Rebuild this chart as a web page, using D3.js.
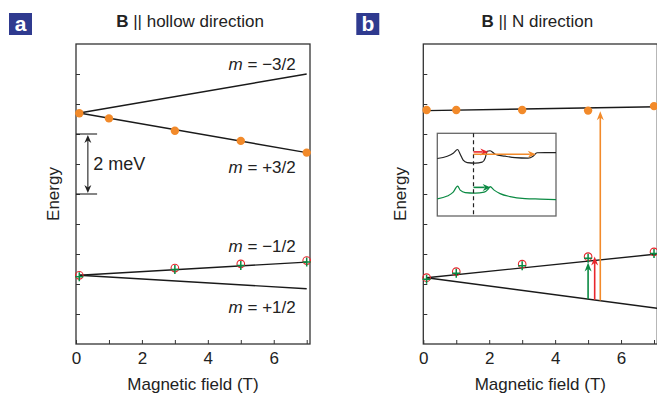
<!DOCTYPE html>
<html>
<head>
<meta charset="utf-8">
<script src="https://cdn.jsdelivr.net/npm/d3@7"></script>
<style>
    body { margin: 0; background: #fff; }
    svg { display: block; font-family: "Liberation Sans Narrow", "Liberation Sans", Arial, sans-serif; }
</style>
</head>
<body>
<svg id="chart" width="657" height="395"></svg>
<script>
// field values (T) and energies (meV, arbitrary offset)
const xTicks = [0, 1, 2, 3, 4, 5, 6, 7];
const xTickLabels = ['0', '', '2', '', '4', '', '6', ''];
const yTicks = [1, 2, 3, 4, 5, 6, 7, 8, 9];

// panel a: B || hollow
const fieldA32 = [0.1, 1, 3, 5, 7];
const energyA32 = [7.69, 7.52, 7.11, 6.77, 6.38];
const fieldA12 = [0.1, 3, 5, 7];
const energyA12 = [2.29, 2.53, 2.67, 2.78];
const linesA = [
    {label: '\u22123/2', from: [0.1, 7.7], to: [7, 9.0], lx: 7, ly: 9.12},
    {label: '+3/2', from: [0.1, 7.7], to: [7, 6.38], lx: 7, ly: 5.7},
    {label: '\u22121/2', from: [0.1, 2.29], to: [7, 2.73], lx: 7, ly: 3.08},
    {label: '+1/2', from: [0.1, 2.29], to: [7, 1.84], lx: 7, ly: 1.04}
];

// panel b: B || N
const fieldB = [0.1, 1, 3, 5, 7];
const energyBTop = [7.8, 7.8, 7.8, 7.78, 7.93];
const energyBLow = [2.21, 2.41, 2.66, 2.91, 3.07];
const linesB = [
    {from: [0.1, 7.78], to: [7.1, 7.91]},
    {from: [0.1, 2.21], to: [7.1, 3.0]},
    {from: [0.1, 2.21], to: [7.1, 1.19]}
];
const arrowsB = [
    {x: 5.0, from: 1.5, to: 2.72, color: '#0b8a43'},
    {x: 5.2, from: 1.47, to: 2.92, color: '#e8262c'},
    {x: 5.37, from: 1.45, to: 7.76, color: '#f28a2a'}
];

// inset spectra (x 0..100, y 0..100)
const insetBlack = [[0, 69.5], [8.4, 72.3], [13.4, 75.9], [17.1, 80.4], [19.3, 74.7], [21.8, 67.5],
    [25.2, 64.5], [31.9, 63.9], [37.8, 65.1], [40.3, 69.9], [42, 78.3], [44.5, 78.9], [48.7, 74.7],
    [57.1, 72.3], [65.5, 70.5], [76.5, 69.9], [80.7, 72.3], [84, 76.5], [90.8, 76.7], [100, 76.7]];
const insetGreen = [[0, 20.8], [8.4, 24.1], [13.4, 28.9], [17.1, 36.1], [19.3, 31.3], [23.5, 28.3],
    [31.9, 27.7], [39.5, 28.9], [42.9, 32.5], [44.5, 35.5], [47.9, 31.3], [52.9, 27.1], [61.3, 23.5],
    [73.9, 21.1], [86.6, 20.5], [100, 19.9]];
const insetArrows = [
    {x0: 30.5, x1: 43, y: 77.5, color: '#e8262c'},
    {x0: 30.5, x1: 83, y: 74.7, color: '#f28a2a'},
    {x0: 30.5, x1: 45, y: 34.6, color: '#0b8a43'}
];

const ORANGE = '#f28a2a';
const RED = '#e8262c';
const GREEN = '#0b8a43';
const AXIS = '#333';

const svg = d3.select('#chart');
const plotTop = 44, plotBottom = 344;

const arrowHead = (g, x, y, dir, color, len, half) => {
    // dir: 'up', 'down', 'right'
    let pts;
    if (dir === 'up') pts = [[x, y], [x - half, y + len], [x, y + len * 0.7], [x + half, y + len]];
    else if (dir === 'down') pts = [[x, y], [x - half, y - len], [x, y - len * 0.7], [x + half, y - len]];
    else pts = [[x, y], [x - len, y - half], [x - len * 0.7, y], [x - len, y + half]];
    g.append('path')
        .attr('d', 'M' + pts.map(p => p.join(',')).join('L') + 'Z')
        .attr('fill', color);
};

const makePanel = (x0, x1, letter, title) => {
    const g = svg.append('g');
    const xScale = d3.scaleLinear().domain([0, 7.1]).range([x0, x1]);
    const yScale = d3.scaleLinear().domain([0, 10]).range([plotBottom, plotTop]);

    g.append('g')
        .attr('transform', `translate(0, ${plotBottom})`)
        .call(d3.axisBottom(xScale).tickValues(xTicks).tickSize(-4).tickPadding(8)
            .tickFormat((d, i) => xTickLabels[i]))
        .call(a => a.select('.domain').remove())
        .call(a => a.selectAll('line').attr('stroke', AXIS).attr('stroke-width', 1))
        .call(a => a.selectAll('text').attr('font-size', 17).attr('fill', '#222').attr('font-family', null));

    g.append('g')
        .attr('transform', `translate(${x0}, 0)`)
        .call(d3.axisLeft(yScale).tickValues(yTicks).tickSize(-4).tickFormat(''))
        .call(a => a.select('.domain').remove())
        .call(a => a.selectAll('line').attr('stroke', AXIS).attr('stroke-width', 1));

    g.append('rect')
        .attr('x', x0).attr('y', plotTop)
        .attr('width', x1 - x0).attr('height', plotBottom - plotTop)
        .attr('fill', 'none').attr('stroke', AXIS).attr('stroke-width', 1.3);

    g.append('text')
        .attr('x', (x0 + x1) / 2).attr('y', 390)
        .attr('text-anchor', 'middle').attr('font-size', 17).attr('fill', '#222')
        .text('Magnetic field (T)');

    g.append('text')
        .attr('transform', `translate(${x0 - 17}, ${(plotTop + plotBottom) / 2}) rotate(-90)`)
        .attr('text-anchor', 'middle').attr('font-size', 17).attr('fill', '#222')
        .text('Energy');

    const lx = x0 - 67;
    g.append('rect').attr('x', lx).attr('y', 13).attr('width', 23).attr('height', 22).attr('fill', '#2f3a8f');
    g.append('text').attr('x', lx + 11.5).attr('y', 31).attr('text-anchor', 'middle')
        .attr('font-size', 21).attr('font-weight', 'bold').attr('fill', '#fff')
        .attr('font-family', '"Liberation Sans", Arial, sans-serif').text(letter);

    const t = g.append('text')
        .attr('x', (x0 + x1) / 2 - 3).attr('y', 27)
        .attr('text-anchor', 'middle').attr('font-size', 17).attr('fill', '#222');
    t.append('tspan').attr('font-weight', 'bold').text('B');
    t.append('tspan').text(' || ' + title);

    return {g, xScale, yScale};
};

const drawLine = (p, l) => {
    p.g.append('line')
        .attr('x1', p.xScale(l.from[0])).attr('y1', p.yScale(l.from[1]))
        .attr('x2', p.xScale(l.to[0])).attr('y2', p.yScale(l.to[1]))
        .attr('stroke', '#1a1a1a').attr('stroke-width', 1.4);
};

const drawOrange = (p, xs, ys) => {
    p.g.selectAll(null).data(xs).enter().append('circle')
        .attr('cx', d => p.xScale(d)).attr('cy', (d, i) => p.yScale(ys[i]))
        .attr('r', 4.2).attr('fill', ORANGE);
};

const drawHalf = (p, xs, ys) => {
    const pts = p.g.selectAll(null).data(xs).enter().append('g')
        .attr('transform', (d, i) => `translate(${p.xScale(d)}, ${p.yScale(ys[i])})`);
    pts.append('circle').attr('r', 3.8).attr('fill', 'none').attr('stroke', RED).attr('stroke-width', 1.1);
    pts.append('path').attr('d', 'M-4,1.5H4M0,-3V6').attr('stroke', GREEN).attr('stroke-width', 1.5);
};

// ---- panel a
const pa = makePanel(76, 310, 'a', 'hollow direction');
linesA.forEach(l => drawLine(pa, l));
drawOrange(pa, fieldA32, energyA32);
drawHalf(pa, fieldA12, energyA12);
linesA.forEach(l => {
    const t = pa.g.append('text')
        .attr('x', pa.xScale(l.lx) - 11).attr('y', pa.yScale(l.ly))
        .attr('text-anchor', 'end').attr('font-size', 17).attr('fill', '#222');
    t.append('tspan').attr('font-style', 'italic').text('m');
    t.append('tspan').text(' = ' + l.label);
});

// 2 meV bracket
const bx0 = pa.xScale(0), bx1 = pa.xScale(0.64), bxa = pa.xScale(0.36);
[7, 5].forEach(e => {
    pa.g.append('line').attr('x1', bx0).attr('x2', bx1)
        .attr('y1', pa.yScale(e)).attr('y2', pa.yScale(e))
        .attr('stroke', '#222').attr('stroke-width', 1.1);
});
pa.g.append('line').attr('x1', bxa).attr('x2', bxa)
    .attr('y1', pa.yScale(7) + 4).attr('y2', pa.yScale(5) - 4)
    .attr('stroke', '#222').attr('stroke-width', 1.1);
arrowHead(pa.g, bxa, pa.yScale(7) + 1, 'up', '#222', 8, 3.5);
arrowHead(pa.g, bxa, pa.yScale(5) - 1, 'down', '#222', 8, 3.5);
pa.g.append('text')
    .attr('x', pa.xScale(0.52)).attr('y', pa.yScale(6) + 6)
    .attr('font-size', 18).attr('fill', '#222').text('2 meV');

// ---- panel b
const pb = makePanel(423.3, 657.3, 'b', 'N direction');
linesB.forEach(l => drawLine(pb, l));
arrowsB.forEach(a => {
    const x = pb.xScale(a.x);
    pb.g.append('line').attr('x1', x).attr('x2', x)
        .attr('y1', pb.yScale(a.from)).attr('y2', pb.yScale(a.to) + 5)
        .attr('stroke', a.color).attr('stroke-width', 1.6);
    arrowHead(pb.g, x, pb.yScale(a.to), 'up', a.color, 9, 3.5);
});
drawOrange(pb, fieldB, energyBTop);
drawHalf(pb, fieldB, energyBLow);

// inset
const ix = d3.scaleLinear().domain([0, 100]).range([437.3, 556]);
const iy = d3.scaleLinear().domain([0, 100]).range([216, 133.3]);
const inset = pb.g.append('g');
inset.append('rect')
    .attr('x', ix(0)).attr('y', iy(100))
    .attr('width', ix(100) - ix(0)).attr('height', iy(0) - iy(100))
    .attr('fill', '#fff').attr('stroke', '#666').attr('stroke-width', 1.3);
const curve = d3.line().x(d => ix(d[0])).y(d => iy(d[1])).curve(d3.curveMonotoneX);
inset.append('path').attr('d', curve(insetBlack)).attr('fill', 'none')
    .attr('stroke', '#222').attr('stroke-width', 1.2);
inset.append('path').attr('d', curve(insetGreen)).attr('fill', 'none')
    .attr('stroke', GREEN).attr('stroke-width', 1.2);
inset.append('line')
    .attr('x1', ix(30.5)).attr('x2', ix(30.5)).attr('y1', iy(100)).attr('y2', iy(0))
    .attr('stroke', '#222').attr('stroke-width', 1.2).attr('stroke-dasharray', '4,3');
insetArrows.forEach(a => {
    inset.append('line')
        .attr('x1', ix(a.x0)).attr('x2', ix(a.x1) - 6)
        .attr('y1', iy(a.y)).attr('y2', iy(a.y))
        .attr('stroke', a.color).attr('stroke-width', 1.6);
    arrowHead(inset, ix(a.x1), iy(a.y), 'right', a.color, 8, 3.5);
});
</script>
</body>
</html>
